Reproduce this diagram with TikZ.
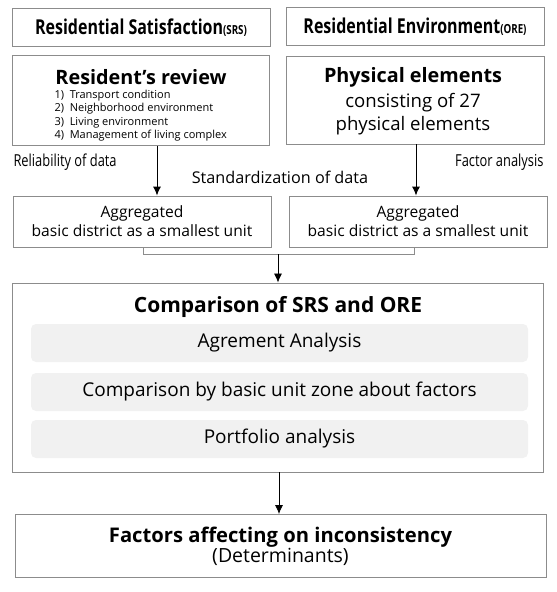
\documentclass[tikz,border=0pt]{standalone}
\usepackage{fontspec}
\setmainfont{Open Sans}
\newfontfamily\narrowfont{Open Sans}[FakeStretch=0.78]
\usetikzlibrary{positioning,arrows.meta}
\definecolor{edgegray}{HTML}{8C8C8C}
\definecolor{pillgray}{HTML}{F1F1F1}
\tikzset{
box/.style={draw=edgegray, line width=0.9pt, rectangle, inner sep=0pt, align=center},
ttl/.style={font=\narrowfont\bfseries\fontsize{20.5}{24}\selectfont},
head/.style={font=\bfseries\fontsize{19.8}{23}\selectfont},
txt/.style={font=\fontsize{18.6}{23}\selectfont, align=center},
small/.style={font=\fontsize{15.6}{19}\selectfont, align=center},
side/.style={font=\narrowfont\fontsize{16.5}{18}\selectfont},
items/.style={font=\fontsize{11}{13.5}\selectfont, align=left},
pill/.style={fill=pillgray, rounded corners=5pt, minimum width=497pt, minimum height=38pt, inner sep=0pt, font=\fontsize{19}{22}\selectfont},
flow/.style={->, line width=1pt},
>={Latex[length=9pt,width=8pt]},
}

\begin{document}
\begin{tikzpicture}[x=1pt,y=-1pt]
\useasboundingbox (0,0) rectangle (557,592);

\node[box, ttl, minimum width=258pt, minimum height=38.5pt] (srs) at (141,27.2) {Residential Satisfaction{\fontsize{12.5}{16}\selectfont(SRS)}};
\node[box, ttl, minimum width=258pt, minimum height=38pt] (ore) at (415,26.6) {Residential Environment{\fontsize{12.5}{16}\selectfont(ORE)}};

\node[box, minimum width=257pt, minimum height=90.5pt] (rev) at (140.5,100.2) {};
\node[head] (revt) at (141,77) {Resident’s review};
\node[items, anchor=north west] (revl) at (51,86.5) {1)\ \ Transport condition\\2)\ \ Neighborhood environment\\3)\ \ Living environment\\4)\ \ Management of living complex};

\node[box, minimum width=258pt, minimum height=88pt] (phys) at (415,100) {};
\node[head] (physt) at (413,77) {Physical elements};
\node[txt] (physl) at (413,114) {consisting of 27\\physical elements};

\node[side, anchor=west] (rel) at (10,162) {Reliability of data};
\node[side, anchor=east] (fac) at (547,162) {Factor analysis};
\node[small, font=\fontsize{16.2}{19}\selectfont] (std) at (280,177) {Standardization of data};

\node[box, small, minimum width=258pt, minimum height=51pt] (agg1) at (142,221.5) {Aggregated\\basic district as a smallest unit};
\node[box, small, minimum width=258pt, minimum height=51pt] (agg2) at (418,221.5) {Aggregated\\basic district as a smallest unit};

\node[box, minimum width=531pt, minimum height=189pt] (comp) at (277.5,377.5) {};
\node[font=\bfseries\fontsize{21}{24}\selectfont] (compt) at (278,307) {Comparison of SRS and ORE};
\node[pill] (agr) at (279.5,343) {Agrement Analysis};
\node[pill] (zone) at (279.5,392) {Comparison by basic unit zone about factors};
\node[pill] (port) at (279.5,439) {Portfolio analysis};

\node[box, minimum width=531pt, minimum height=63pt, font=\fontsize{19.5}{18.5}\selectfont] (fact) at (280.5,546) {\textbf{\fontsize{20.2}{18.5}\selectfont Factors affecting on inconsistency}\\(Determinants)};

\draw[flow] ([xshift=16.5pt]rev.south) -- ([xshift=16.5pt]rev.south |- agg1.north);
\draw[flow] ([xshift=1pt]phys.south) -- ([xshift=1pt]phys.south |- agg2.north);
\draw[draw=edgegray, line width=0.9pt] ([xshift=1pt]agg1.south) -- ++(0,7) coordinate (mid) -| ([xshift=-4pt]agg2.south);
\coordinate (join) at (278,254);
\draw[flow, line width=0.8pt] (join) -- (join |- comp.north);
\draw[flow, line width=0.8pt] ([xshift=1.5pt]comp.south) -- ([xshift=1.5pt]comp.south |- fact.north);
\end{tikzpicture}
\end{document}
